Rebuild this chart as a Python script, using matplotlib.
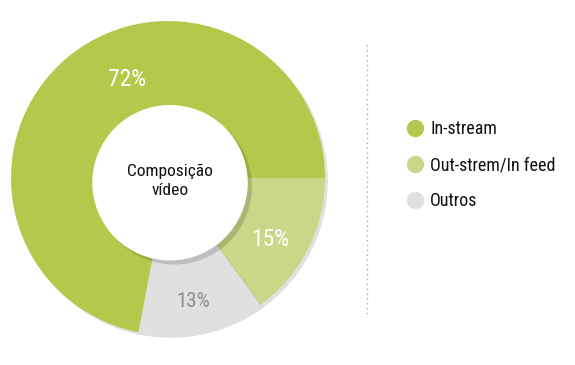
import matplotlib
matplotlib.use("Agg")
import matplotlib.pyplot as plt
import matplotlib.patheffects as pe
from matplotlib.lines import Line2D
from matplotlib.patches import Circle
import numpy as np

plt.rcParams['font.family'] = ['Roboto Condensed', 'Liberation Sans Narrow', 'Roboto', 'DejaVu Sans']

# data
categories = ["In-stream", "Out-strem/In feed", "Outros"]
values = [72, 15, 13]
pct_labels = ["72%", "15%", "13%"]
center_title = "Composição\nvídeo"

colors = ["#b5c84c", "#c8d888", "#e0e0e0"]
label_colors = ["white", "white", "#8c8c8c"]
label_sizes = [17, 17, 15]
label_shift = [-17, -4, -1]     # angle tweak (deg) for label placement
label_radius = [0.68, 0.76, 0.80]

W, H = 575, 365
fig = plt.figure(figsize=(W / 100, H / 100), dpi=100)

# pie axes (pixel box of the donut)
ax = fig.add_axes([11 / W, 30 / H, 314 / W, 314 / H])

total = sum(values)
wedges, _ = ax.pie(values, colors=colors, startangle=360 * values[0] / total,
                   counterclock=False, radius=1,
                   wedgeprops=dict(linewidth=0))
ax.set_xlim(-1, 1)
ax.set_ylim(-1, 1)
ax.set_aspect("equal")
ax.axis("off")
for w in wedges:
    w.set_path_effects([pe.SimplePatchShadow(offset=(2, -2), shadow_rgbFace="k", alpha=0.12),
                        pe.Normal()])

# white centre
inner = Circle((0.013, -0.03), 0.495, facecolor="white", edgecolor="none", zorder=5,
               path_effects=[pe.SimplePatchShadow(offset=(3, -3), shadow_rgbFace="k", alpha=0.15),
                             pe.Normal()])
ax.add_patch(inner)
ax.text(0.013, -0.02, center_title, ha="center", va="center", fontsize=12.5,
        color="#111111", linespacing=1.3, zorder=6)

# percentage labels
for w, lab, c, fs, sh, r in zip(wedges, pct_labels, label_colors, label_sizes, label_shift, label_radius):
    ang = np.deg2rad((w.theta1 + w.theta2) / 2 + sh)
    ax.text(r * np.cos(ang), r * np.sin(ang), lab, ha="center", va="center",
            fontsize=fs, color=c, zorder=6)

# dotted separator
fig.add_artist(Line2D([367 / W, 367 / W], [1 - 45 / H, 1 - 317 / H],
                      transform=fig.transFigure, color="#a8a8a8",
                      linestyle=(0, (1, 2.5)), linewidth=1))

# legend
handles = [Line2D([], [], marker="o", linestyle="none", markersize=12.5,
                  markerfacecolor=c, markeredgecolor="none") for c in colors]
leg = fig.legend(handles, categories, loc="upper left",
                 bbox_to_anchor=(406 / W, 1 - 120 / H), frameon=False,
                 fontsize=13, handlelength=1.0, handletextpad=0.33,
                 labelspacing=1.0, borderpad=0, borderaxespad=0)
for t in leg.get_texts():
    t.set_color("#111111")

fig.savefig("out.png", dpi=100, facecolor="white")
